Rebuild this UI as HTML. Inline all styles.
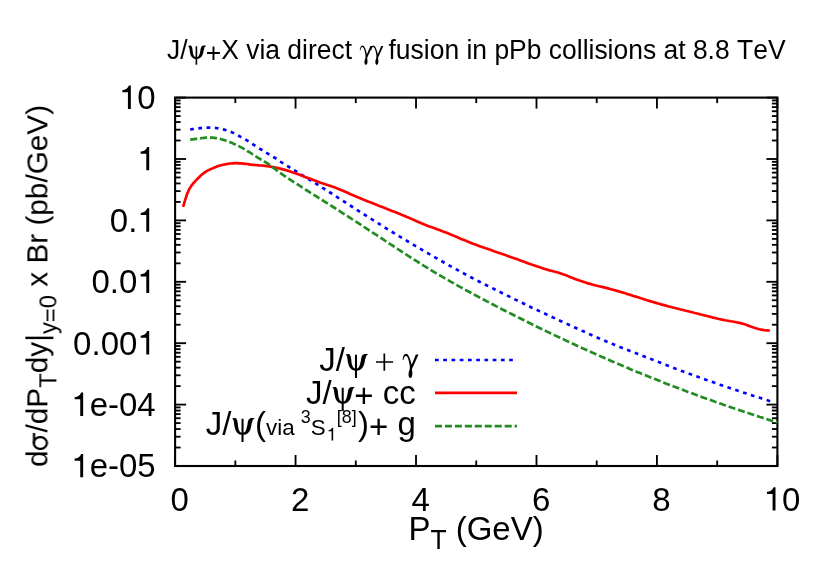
<!DOCTYPE html>
<html><head><meta charset="utf-8"><title>plot</title>
<style>
html,body{margin:0;padding:0;background:#fff;}
svg{display:block;}
text{font-family:"Liberation Sans",sans-serif;fill:#000;font-kerning:none;white-space:pre;}
</style></head><body>
<svg width="830" height="582" viewBox="0 0 830 582">
<rect width="830" height="582" fill="#fff"/>
<g stroke="#000" stroke-width="1.85" fill="none" stroke-linecap="butt">
<line x1="175.10" y1="97.60" x2="186.10" y2="97.60"/>
<line x1="777.40" y1="97.60" x2="766.40" y2="97.60"/>
<line x1="175.10" y1="140.52" x2="180.60" y2="140.52"/>
<line x1="777.40" y1="140.52" x2="771.90" y2="140.52"/>
<line x1="175.10" y1="129.70" x2="180.60" y2="129.70"/>
<line x1="777.40" y1="129.70" x2="771.90" y2="129.70"/>
<line x1="175.10" y1="122.03" x2="180.60" y2="122.03"/>
<line x1="777.40" y1="122.03" x2="771.90" y2="122.03"/>
<line x1="175.10" y1="116.08" x2="180.60" y2="116.08"/>
<line x1="777.40" y1="116.08" x2="771.90" y2="116.08"/>
<line x1="175.10" y1="111.22" x2="180.60" y2="111.22"/>
<line x1="777.40" y1="111.22" x2="771.90" y2="111.22"/>
<line x1="175.10" y1="107.11" x2="180.60" y2="107.11"/>
<line x1="777.40" y1="107.11" x2="771.90" y2="107.11"/>
<line x1="175.10" y1="103.55" x2="180.60" y2="103.55"/>
<line x1="777.40" y1="103.55" x2="771.90" y2="103.55"/>
<line x1="175.10" y1="100.41" x2="180.60" y2="100.41"/>
<line x1="777.40" y1="100.41" x2="771.90" y2="100.41"/>
<line x1="175.10" y1="159.00" x2="186.10" y2="159.00"/>
<line x1="777.40" y1="159.00" x2="766.40" y2="159.00"/>
<line x1="175.10" y1="201.92" x2="180.60" y2="201.92"/>
<line x1="777.40" y1="201.92" x2="771.90" y2="201.92"/>
<line x1="175.10" y1="191.10" x2="180.60" y2="191.10"/>
<line x1="777.40" y1="191.10" x2="771.90" y2="191.10"/>
<line x1="175.10" y1="183.43" x2="180.60" y2="183.43"/>
<line x1="777.40" y1="183.43" x2="771.90" y2="183.43"/>
<line x1="175.10" y1="177.48" x2="180.60" y2="177.48"/>
<line x1="777.40" y1="177.48" x2="771.90" y2="177.48"/>
<line x1="175.10" y1="172.62" x2="180.60" y2="172.62"/>
<line x1="777.40" y1="172.62" x2="771.90" y2="172.62"/>
<line x1="175.10" y1="168.51" x2="180.60" y2="168.51"/>
<line x1="777.40" y1="168.51" x2="771.90" y2="168.51"/>
<line x1="175.10" y1="164.95" x2="180.60" y2="164.95"/>
<line x1="777.40" y1="164.95" x2="771.90" y2="164.95"/>
<line x1="175.10" y1="161.81" x2="180.60" y2="161.81"/>
<line x1="777.40" y1="161.81" x2="771.90" y2="161.81"/>
<line x1="175.10" y1="220.40" x2="186.10" y2="220.40"/>
<line x1="777.40" y1="220.40" x2="766.40" y2="220.40"/>
<line x1="175.10" y1="263.32" x2="180.60" y2="263.32"/>
<line x1="777.40" y1="263.32" x2="771.90" y2="263.32"/>
<line x1="175.10" y1="252.50" x2="180.60" y2="252.50"/>
<line x1="777.40" y1="252.50" x2="771.90" y2="252.50"/>
<line x1="175.10" y1="244.83" x2="180.60" y2="244.83"/>
<line x1="777.40" y1="244.83" x2="771.90" y2="244.83"/>
<line x1="175.10" y1="238.88" x2="180.60" y2="238.88"/>
<line x1="777.40" y1="238.88" x2="771.90" y2="238.88"/>
<line x1="175.10" y1="234.02" x2="180.60" y2="234.02"/>
<line x1="777.40" y1="234.02" x2="771.90" y2="234.02"/>
<line x1="175.10" y1="229.91" x2="180.60" y2="229.91"/>
<line x1="777.40" y1="229.91" x2="771.90" y2="229.91"/>
<line x1="175.10" y1="226.35" x2="180.60" y2="226.35"/>
<line x1="777.40" y1="226.35" x2="771.90" y2="226.35"/>
<line x1="175.10" y1="223.21" x2="180.60" y2="223.21"/>
<line x1="777.40" y1="223.21" x2="771.90" y2="223.21"/>
<line x1="175.10" y1="281.80" x2="186.10" y2="281.80"/>
<line x1="777.40" y1="281.80" x2="766.40" y2="281.80"/>
<line x1="175.10" y1="324.72" x2="180.60" y2="324.72"/>
<line x1="777.40" y1="324.72" x2="771.90" y2="324.72"/>
<line x1="175.10" y1="313.90" x2="180.60" y2="313.90"/>
<line x1="777.40" y1="313.90" x2="771.90" y2="313.90"/>
<line x1="175.10" y1="306.23" x2="180.60" y2="306.23"/>
<line x1="777.40" y1="306.23" x2="771.90" y2="306.23"/>
<line x1="175.10" y1="300.28" x2="180.60" y2="300.28"/>
<line x1="777.40" y1="300.28" x2="771.90" y2="300.28"/>
<line x1="175.10" y1="295.42" x2="180.60" y2="295.42"/>
<line x1="777.40" y1="295.42" x2="771.90" y2="295.42"/>
<line x1="175.10" y1="291.31" x2="180.60" y2="291.31"/>
<line x1="777.40" y1="291.31" x2="771.90" y2="291.31"/>
<line x1="175.10" y1="287.75" x2="180.60" y2="287.75"/>
<line x1="777.40" y1="287.75" x2="771.90" y2="287.75"/>
<line x1="175.10" y1="284.61" x2="180.60" y2="284.61"/>
<line x1="777.40" y1="284.61" x2="771.90" y2="284.61"/>
<line x1="175.10" y1="343.20" x2="186.10" y2="343.20"/>
<line x1="777.40" y1="343.20" x2="766.40" y2="343.20"/>
<line x1="175.10" y1="386.12" x2="180.60" y2="386.12"/>
<line x1="777.40" y1="386.12" x2="771.90" y2="386.12"/>
<line x1="175.10" y1="375.30" x2="180.60" y2="375.30"/>
<line x1="777.40" y1="375.30" x2="771.90" y2="375.30"/>
<line x1="175.10" y1="367.63" x2="180.60" y2="367.63"/>
<line x1="777.40" y1="367.63" x2="771.90" y2="367.63"/>
<line x1="175.10" y1="361.68" x2="180.60" y2="361.68"/>
<line x1="777.40" y1="361.68" x2="771.90" y2="361.68"/>
<line x1="175.10" y1="356.82" x2="180.60" y2="356.82"/>
<line x1="777.40" y1="356.82" x2="771.90" y2="356.82"/>
<line x1="175.10" y1="352.71" x2="180.60" y2="352.71"/>
<line x1="777.40" y1="352.71" x2="771.90" y2="352.71"/>
<line x1="175.10" y1="349.15" x2="180.60" y2="349.15"/>
<line x1="777.40" y1="349.15" x2="771.90" y2="349.15"/>
<line x1="175.10" y1="346.01" x2="180.60" y2="346.01"/>
<line x1="777.40" y1="346.01" x2="771.90" y2="346.01"/>
<line x1="175.10" y1="404.60" x2="186.10" y2="404.60"/>
<line x1="777.40" y1="404.60" x2="766.40" y2="404.60"/>
<line x1="175.10" y1="447.52" x2="180.60" y2="447.52"/>
<line x1="777.40" y1="447.52" x2="771.90" y2="447.52"/>
<line x1="175.10" y1="436.70" x2="180.60" y2="436.70"/>
<line x1="777.40" y1="436.70" x2="771.90" y2="436.70"/>
<line x1="175.10" y1="429.03" x2="180.60" y2="429.03"/>
<line x1="777.40" y1="429.03" x2="771.90" y2="429.03"/>
<line x1="175.10" y1="423.08" x2="180.60" y2="423.08"/>
<line x1="777.40" y1="423.08" x2="771.90" y2="423.08"/>
<line x1="175.10" y1="418.22" x2="180.60" y2="418.22"/>
<line x1="777.40" y1="418.22" x2="771.90" y2="418.22"/>
<line x1="175.10" y1="414.11" x2="180.60" y2="414.11"/>
<line x1="777.40" y1="414.11" x2="771.90" y2="414.11"/>
<line x1="175.10" y1="410.55" x2="180.60" y2="410.55"/>
<line x1="777.40" y1="410.55" x2="771.90" y2="410.55"/>
<line x1="175.10" y1="407.41" x2="180.60" y2="407.41"/>
<line x1="777.40" y1="407.41" x2="771.90" y2="407.41"/>
<line x1="175.10" y1="466.00" x2="186.10" y2="466.00"/>
<line x1="777.40" y1="466.00" x2="766.40" y2="466.00"/>
<line x1="175.10" y1="466.00" x2="175.10" y2="455.00"/>
<line x1="175.10" y1="97.60" x2="175.10" y2="108.60"/>
<line x1="235.33" y1="466.00" x2="235.33" y2="460.50"/>
<line x1="235.33" y1="97.60" x2="235.33" y2="103.10"/>
<line x1="295.56" y1="466.00" x2="295.56" y2="455.00"/>
<line x1="295.56" y1="97.60" x2="295.56" y2="108.60"/>
<line x1="355.79" y1="466.00" x2="355.79" y2="460.50"/>
<line x1="355.79" y1="97.60" x2="355.79" y2="103.10"/>
<line x1="416.02" y1="466.00" x2="416.02" y2="455.00"/>
<line x1="416.02" y1="97.60" x2="416.02" y2="108.60"/>
<line x1="476.25" y1="466.00" x2="476.25" y2="460.50"/>
<line x1="476.25" y1="97.60" x2="476.25" y2="103.10"/>
<line x1="536.48" y1="466.00" x2="536.48" y2="455.00"/>
<line x1="536.48" y1="97.60" x2="536.48" y2="108.60"/>
<line x1="596.71" y1="466.00" x2="596.71" y2="460.50"/>
<line x1="596.71" y1="97.60" x2="596.71" y2="103.10"/>
<line x1="656.94" y1="466.00" x2="656.94" y2="455.00"/>
<line x1="656.94" y1="97.60" x2="656.94" y2="108.60"/>
<line x1="717.17" y1="466.00" x2="717.17" y2="460.50"/>
<line x1="717.17" y1="97.60" x2="717.17" y2="103.10"/>
<line x1="777.40" y1="466.00" x2="777.40" y2="455.00"/>
<line x1="777.40" y1="97.60" x2="777.40" y2="108.60"/>
<rect x="175.1" y="97.6" width="602.30" height="368.40" stroke-width="2.1"/>
</g>
<g fill="none" stroke-width="2.68" stroke-linejoin="round">
<path d="M190.2,129.5 L192.2,129.2 L194.2,128.9 L196.2,128.7 L198.2,128.4 L200.2,128.2 L202.2,128.0 L204.2,127.8 L206.2,127.7 L208.2,127.7 L210.2,127.6 L212.2,127.7 L214.2,127.8 L216.2,128.0 L218.2,128.3 L220.2,128.7 L222.2,129.1 L224.2,129.6 L226.2,130.2 L228.2,130.8 L230.2,131.6 L232.2,132.4 L234.2,133.4 L236.2,134.4 L238.2,135.5 L240.2,136.6 L242.2,137.7 L244.2,138.8 L246.2,139.9 L248.2,141.1 L250.2,142.4 L252.2,143.8 L254.2,145.1 L256.2,146.4 L258.2,147.7 L260.2,149.0 L262.2,150.2 L264.2,151.5 L266.2,152.7 L268.2,153.9 L270.2,155.1 L272.2,156.3 L274.2,157.5 L276.2,158.7 L278.2,160.1 L280.2,161.5 L282.0,162.7 L285.0,164.5 L288.0,166.4 L291.0,168.2 L294.0,170.1 L297.0,171.9 L300.0,173.7 L303.0,175.6 L306.0,177.4 L309.0,179.3 L312.0,181.2 L315.0,183.0 L318.0,184.9 L321.0,186.8 L324.0,188.7 L327.0,190.6 L330.0,192.5 L333.0,194.4 L336.0,196.4 L339.0,198.3 L342.0,200.2 L345.0,202.1 L348.0,204.1 L351.0,206.0 L354.0,207.9 L357.0,209.9 L360.0,211.8 L363.0,213.7 L366.0,215.6 L369.0,217.5 L372.0,219.4 L375.0,221.3 L378.0,223.2 L381.0,225.1 L384.0,226.9 L387.0,228.8 L390.0,230.6 L393.0,232.5 L396.0,234.3 L399.0,236.1 L402.0,237.9 L405.0,239.7 L408.0,241.5 L411.0,243.3 L414.0,245.1 L417.0,246.8 L420.0,248.6 L423.0,250.4 L426.0,252.1 L429.0,253.9 L432.0,255.6 L435.0,257.3 L438.0,259.1 L441.0,260.8 L444.0,262.5 L447.0,264.2 L450.0,265.9 L453.0,267.6 L456.0,269.2 L459.0,270.9 L462.0,272.5 L465.0,274.1 L468.0,275.7 L471.0,277.3 L474.0,278.9 L477.0,280.4 L480.0,282.0 L483.0,283.5 L486.0,285.0 L489.0,286.5 L492.0,288.0 L495.0,289.5 L498.0,291.0 L501.0,292.5 L504.0,294.0 L507.0,295.4 L510.0,296.9 L513.0,298.4 L516.0,299.9 L519.0,301.3 L522.0,302.8 L525.0,304.3 L528.0,305.7 L531.0,307.2 L534.0,308.6 L537.0,310.0 L540.0,311.4 L543.0,312.8 L546.0,314.2 L549.0,315.6 L552.0,317.0 L555.0,318.4 L558.0,319.8 L561.0,321.2 L564.0,322.5 L567.0,323.9 L570.0,325.3 L573.0,326.7 L576.0,328.0 L579.0,329.4 L582.0,330.8 L585.0,332.1 L588.0,333.5 L591.0,334.8 L594.0,336.1 L597.0,337.4 L600.0,338.7 L603.0,340.0 L606.0,341.3 L609.0,342.5 L612.0,343.7 L615.0,345.0 L618.0,346.2 L621.0,347.4 L624.0,348.6 L627.0,349.7 L630.0,350.9 L633.0,352.1 L636.0,353.3 L639.0,354.4 L642.0,355.6 L645.0,356.8 L648.0,358.0 L651.0,359.1 L654.0,360.3 L657.0,361.5 L660.0,362.6 L663.0,363.8 L666.0,364.9 L669.0,366.1 L672.0,367.2 L675.0,368.4 L678.0,369.5 L681.0,370.7 L684.0,371.8 L687.0,372.9 L690.0,374.0 L693.0,375.1 L696.0,376.2 L699.0,377.3 L702.0,378.4 L705.0,379.4 L708.0,380.5 L711.0,381.5 L714.0,382.6 L717.0,383.6 L720.0,384.7 L723.0,385.7 L726.0,386.7 L729.0,387.7 L732.0,388.7 L735.0,389.7 L738.0,390.7 L741.0,391.7 L744.0,392.7 L747.0,393.7 L750.0,394.7 L753.0,395.7 L756.0,396.6 L759.0,397.6 L762.0,398.6 L765.0,399.5 L768.0,400.5 L771.0,401.5 L773.5,402.2" stroke="#0000ff" stroke-dasharray="3.7 4.54"/>
<path d="M183.1,206.9 L185.1,200.1 L187.1,194.0 L189.1,189.4 L191.1,186.1 L193.1,183.5 L195.1,181.3 L197.1,179.2 L199.1,177.2 L201.1,175.3 L203.1,173.6 L205.1,172.1 L207.1,170.9 L209.1,169.9 L211.1,169.0 L213.1,168.1 L215.1,167.2 L217.1,166.4 L219.1,165.8 L221.1,165.2 L223.1,164.7 L225.1,164.3 L227.1,164.0 L229.1,163.7 L231.1,163.5 L233.1,163.3 L235.1,163.2 L237.1,163.2 L239.1,163.3 L241.1,163.4 L243.1,163.6 L245.1,163.8 L247.1,164.0 L249.1,164.3 L251.1,164.6 L253.1,164.8 L255.1,165.0 L257.1,165.2 L259.1,165.4 L261.1,165.5 L263.1,165.7 L265.1,165.9 L267.1,166.1 L269.1,166.4 L271.1,166.7 L273.1,167.1 L275.1,167.5 L277.1,167.9 L279.1,168.4 L281.1,168.9 L283.1,169.4 L285.1,169.9 L287.0,170.5 L290.0,171.4 L293.0,172.5 L296.0,173.5 L299.0,174.6 L302.0,175.7 L305.0,176.9 L308.0,178.0 L311.0,179.1 L314.0,180.2 L317.0,181.3 L320.0,182.4 L323.0,183.4 L326.0,184.4 L329.0,185.4 L332.0,186.5 L335.0,187.6 L338.0,188.8 L341.0,190.0 L344.0,191.3 L347.0,192.6 L350.0,193.9 L353.0,195.2 L356.0,196.5 L359.0,197.7 L362.0,199.0 L365.0,200.2 L368.0,201.4 L371.0,202.6 L374.0,203.8 L377.0,205.0 L380.0,206.2 L383.0,207.3 L386.0,208.5 L389.0,209.7 L392.0,210.9 L395.0,212.0 L398.0,213.2 L401.0,214.5 L404.0,215.7 L407.0,217.0 L410.0,218.2 L413.0,219.6 L416.0,220.9 L419.0,222.2 L422.0,223.5 L425.0,224.7 L428.0,225.9 L431.0,227.0 L434.0,228.1 L437.0,229.2 L440.0,230.3 L443.0,231.5 L446.0,232.6 L449.0,233.8 L452.0,235.1 L455.0,236.3 L458.0,237.6 L461.0,238.9 L464.0,240.1 L467.0,241.3 L470.0,242.5 L473.0,243.7 L476.0,244.8 L479.0,245.9 L482.0,247.0 L485.0,248.1 L488.0,249.1 L491.0,250.1 L494.0,251.2 L497.0,252.2 L500.0,253.2 L503.0,254.3 L506.0,255.3 L509.0,256.4 L512.0,257.5 L515.0,258.5 L518.0,259.6 L521.0,260.7 L524.0,261.8 L527.0,262.9 L530.0,264.0 L533.0,265.1 L536.0,266.1 L539.0,267.1 L542.0,268.1 L545.0,269.0 L548.0,269.9 L551.0,270.7 L554.0,271.5 L557.0,272.3 L560.0,273.2 L563.0,274.3 L566.0,275.3 L569.0,276.5 L572.0,277.7 L575.0,278.9 L578.0,280.0 L581.0,281.1 L584.0,282.1 L587.0,283.1 L590.0,283.9 L593.0,284.7 L596.0,285.5 L599.0,286.2 L602.0,286.9 L605.0,287.6 L608.0,288.4 L611.0,289.2 L614.0,290.0 L617.0,290.9 L620.0,291.7 L623.0,292.6 L626.0,293.6 L629.0,294.5 L632.0,295.4 L635.0,296.4 L638.0,297.3 L641.0,298.3 L644.0,299.2 L647.0,300.2 L650.0,301.1 L653.0,302.0 L656.0,302.9 L659.0,303.8 L662.0,304.6 L665.0,305.4 L668.0,306.2 L671.0,307.0 L674.0,307.8 L677.0,308.5 L680.0,309.3 L683.0,310.0 L686.0,310.8 L689.0,311.5 L692.0,312.2 L695.0,313.0 L698.0,313.7 L701.0,314.5 L704.0,315.2 L707.0,316.0 L710.0,316.8 L713.0,317.6 L716.0,318.3 L719.0,319.0 L722.0,319.6 L725.0,320.2 L728.0,320.7 L731.0,321.3 L734.0,321.8 L735.0,322.0 L739.4,322.9 L744.8,324.3 L748.5,325.7 L752.1,327.0 L755.8,328.2 L759.3,329.2 L764.0,330.1 L769.8,330.7" stroke="#ff0000"/>
<path d="M190.2,139.7 L192.2,139.4 L194.2,139.1 L196.2,138.8 L198.2,138.5 L200.2,138.3 L202.2,138.0 L204.2,137.8 L206.2,137.7 L208.2,137.6 L210.2,137.6 L212.2,137.6 L214.2,137.8 L216.2,138.1 L218.2,138.5 L220.2,139.0 L222.2,139.5 L224.2,140.1 L226.2,140.8 L228.2,141.5 L230.2,142.3 L232.2,143.1 L234.2,144.0 L236.2,144.9 L238.2,145.8 L240.2,146.9 L242.2,147.9 L244.2,149.1 L246.2,150.3 L248.2,151.5 L250.2,152.7 L252.2,154.0 L254.2,155.3 L256.2,156.6 L258.2,157.8 L260.2,159.0 L262.2,160.2 L264.2,161.4 L266.2,162.6 L268.2,163.9 L270.2,165.4 L272.2,166.9 L274.2,168.5 L276.2,170.0 L278.2,171.5 L280.2,172.9 L282.2,174.3 L283.0,174.8 L286.0,176.9 L289.0,178.9 L292.0,180.8 L295.0,182.8 L298.0,184.7 L301.0,186.7 L304.0,188.6 L307.0,190.5 L310.0,192.4 L313.0,194.3 L316.0,196.2 L319.0,198.1 L322.0,200.0 L325.0,201.9 L328.0,203.8 L331.0,205.6 L334.0,207.5 L337.0,209.4 L340.0,211.3 L343.0,213.3 L346.0,215.2 L349.0,217.1 L352.0,219.1 L355.0,221.0 L358.0,222.9 L361.0,224.9 L364.0,226.9 L367.0,228.8 L370.0,230.8 L373.0,232.8 L376.0,234.7 L379.0,236.7 L382.0,238.7 L385.0,240.7 L388.0,242.6 L391.0,244.6 L394.0,246.5 L397.0,248.5 L400.0,250.5 L403.0,252.4 L406.0,254.3 L409.0,256.3 L412.0,258.2 L415.0,260.1 L418.0,262.0 L421.0,263.9 L424.0,265.8 L427.0,267.6 L430.0,269.5 L433.0,271.3 L436.0,273.1 L439.0,274.9 L442.0,276.7 L445.0,278.4 L448.0,280.1 L451.0,281.8 L454.0,283.5 L457.0,285.2 L460.0,286.9 L463.0,288.5 L466.0,290.2 L469.0,291.8 L472.0,293.4 L475.0,295.0 L478.0,296.6 L481.0,298.2 L484.0,299.8 L487.0,301.4 L490.0,302.9 L493.0,304.5 L496.0,306.1 L499.0,307.6 L502.0,309.2 L505.0,310.7 L508.0,312.3 L511.0,313.8 L514.0,315.3 L517.0,316.8 L520.0,318.3 L523.0,319.8 L526.0,321.3 L529.0,322.8 L532.0,324.3 L535.0,325.8 L538.0,327.2 L541.0,328.7 L544.0,330.2 L547.0,331.6 L550.0,333.0 L553.0,334.5 L556.0,335.9 L559.0,337.3 L562.0,338.7 L565.0,340.1 L568.0,341.5 L571.0,342.9 L574.0,344.3 L577.0,345.7 L580.0,347.1 L583.0,348.4 L586.0,349.8 L589.0,351.2 L592.0,352.5 L595.0,353.8 L598.0,355.2 L601.0,356.5 L604.0,357.8 L607.0,359.1 L610.0,360.4 L613.0,361.7 L616.0,363.0 L619.0,364.3 L622.0,365.6 L625.0,366.8 L628.0,368.1 L631.0,369.4 L634.0,370.6 L637.0,371.9 L640.0,373.1 L643.0,374.3 L646.0,375.5 L649.0,376.7 L652.0,377.9 L655.0,379.1 L658.0,380.3 L661.0,381.5 L664.0,382.7 L667.0,383.9 L670.0,385.0 L673.0,386.2 L676.0,387.3 L679.0,388.5 L682.0,389.6 L685.0,390.8 L688.0,391.9 L691.0,393.0 L694.0,394.1 L697.0,395.2 L700.0,396.3 L703.0,397.4 L706.0,398.5 L709.0,399.6 L712.0,400.6 L715.0,401.7 L718.0,402.8 L721.0,403.8 L724.0,404.9 L727.0,405.9 L730.0,406.9 L733.0,408.0 L736.0,409.0 L739.0,410.0 L742.0,411.0 L745.0,412.0 L748.0,413.0 L751.0,414.0 L754.0,415.0 L757.0,416.0 L760.0,417.0 L763.0,417.9 L766.0,418.9 L769.0,419.9 L772.0,420.8 L775.0,421.8 L777.4,422.5" stroke="#228b22" stroke-dasharray="7.05 2.9"/>
<path d="M435,360.0 H517" stroke="#0000ff" stroke-dasharray="3.7 4.54"/>
<path d="M435,392.8 H517" stroke="#ff0000"/>
<path d="M435,426.2 H517" stroke="#228b22" stroke-dasharray="7.05 2.9"/>
</g>
<g fill="#000" style="filter:grayscale(1)">
<text transform="translate(167.00,58.80) scale(1,1.020)" font-size="26.46">J/</text>
<path transform="translate(187.58,58.80) scale(0.02646,-0.02646)" d="M12,478 C45,500 100,505 135,495 C175,455 185,390 190,327 C196,250 208,190 222,150 C238,105 265,72 302,56 L302,478 L364,478 L364,56 C400,72 428,105 443,150 C460,200 478,270 486,327 C492,385 502,430 527,465 C555,497 625,508 690,492 L697,478 C662,470 643,450 636,416 C627,370 617,350 608,327 C597,250 585,200 568,150 C540,75 465,0 364,-8 L364,-228 L302,-228 L302,-8 C235,-2 185,35 152,80 C115,130 100,200 88,260 C78,330 72,380 64,420 C57,450 42,468 12,478 Z"/>
<text transform="translate(205.73,61.58) scale(1,1.020)" font-size="26.46">+</text>
<text transform="translate(221.19,58.80) scale(1,1.020)" font-size="26.46">X via direct </text>
<path transform="translate(359.42,58.80) scale(0.02646,-0.02646)" d="M14,318 C18,420 55,504 115,504 C180,504 222,400 250,300 L285,175 L412,483 L492,483 L345,150 C325,105 300,70 292,27 C300,-10 310,-60 306,-115 C302,-185 280,-230 245,-230 C210,-230 190,-180 191,-115 C192,-60 215,-10 226,27 C232,70 232,110 228,150 C205,290 170,442 110,442 C70,442 45,390 41,322 Z"/>
<path transform="translate(370.29,58.80) scale(0.02646,-0.02646)" d="M14,318 C18,420 55,504 115,504 C180,504 222,400 250,300 L285,175 L412,483 L492,483 L345,150 C325,105 300,70 292,27 C300,-10 310,-60 306,-115 C302,-185 280,-230 245,-230 C210,-230 190,-180 191,-115 C192,-60 215,-10 226,27 C232,70 232,110 228,150 C205,290 170,442 110,442 C70,442 45,390 41,322 Z"/>
<text transform="translate(381.17,58.80) scale(1,1.020)" font-size="26.46"> fusion in pPb collisions at 8.8 TeV</text>
<path transform="translate(118.99,108.90) scale(0.03300,-0.03300)" d="M359,0 L271,0 L271,505 L101,505 L101,568 C187,577 262,610 302,709 L359,709 Z"/>
<text transform="translate(137.34,108.90) scale(1,1.032)" font-size="33.00">0</text>
<path transform="translate(137.35,170.30) scale(0.03300,-0.03300)" d="M359,0 L271,0 L271,505 L101,505 L101,568 C187,577 262,610 302,709 L359,709 Z"/>
<text transform="translate(109.83,231.70) scale(1,1.032)" font-size="33.00">0.</text>
<path transform="translate(137.35,231.70) scale(0.03300,-0.03300)" d="M359,0 L271,0 L271,505 L101,505 L101,568 C187,577 262,610 302,709 L359,709 Z"/>
<text transform="translate(91.47,293.10) scale(1,1.032)" font-size="33.00">0.0</text>
<path transform="translate(137.35,293.10) scale(0.03300,-0.03300)" d="M359,0 L271,0 L271,505 L101,505 L101,568 C187,577 262,610 302,709 L359,709 Z"/>
<text transform="translate(73.12,354.50) scale(1,1.032)" font-size="33.00">0.00</text>
<path transform="translate(137.35,354.50) scale(0.03300,-0.03300)" d="M359,0 L271,0 L271,505 L101,505 L101,568 C187,577 262,610 302,709 L359,709 Z"/>
<path transform="translate(71.30,415.90) scale(0.03300,-0.03300)" d="M359,0 L271,0 L271,505 L101,505 L101,568 C187,577 262,610 302,709 L359,709 Z"/>
<text transform="translate(89.65,415.90) scale(1,1.032)" font-size="33.00">e-04</text>
<path transform="translate(71.30,477.30) scale(0.03300,-0.03300)" d="M359,0 L271,0 L271,505 L101,505 L101,568 C187,577 262,610 302,709 L359,709 Z"/>
<text transform="translate(89.65,477.30) scale(1,1.032)" font-size="33.00">e-05</text>
<text transform="translate(170.52,510.60) scale(1,1.032)" font-size="33.00">0</text>
<text transform="translate(290.98,510.60) scale(1,1.032)" font-size="33.00">2</text>
<text transform="translate(411.44,510.60) scale(1,1.032)" font-size="33.00">4</text>
<text transform="translate(531.90,510.60) scale(1,1.032)" font-size="33.00">6</text>
<text transform="translate(652.36,510.60) scale(1,1.032)" font-size="33.00">8</text>
<path transform="translate(763.65,510.60) scale(0.03300,-0.03300)" d="M359,0 L271,0 L271,505 L101,505 L101,568 C187,577 262,610 302,709 L359,709 Z"/>
<text transform="translate(781.99,510.60) scale(1,1.032)" font-size="33.00">0</text>
<text transform="translate(408.40,539.80) scale(1,1.020)" font-size="33.00">P</text>
<text transform="translate(430.41,549.40) scale(1,1.020)" font-size="26.40">T</text>
<text transform="translate(446.54,539.80) scale(1,1.020)" font-size="33.00"> (GeV)</text>
<text transform="translate(319.31,370.50) scale(1,1.020)" font-size="33.00">J/</text>
<path transform="translate(344.98,370.50) scale(0.03300,-0.03300)" d="M12,478 C45,500 100,505 135,495 C175,455 185,390 190,327 C196,250 208,190 222,150 C238,105 265,72 302,56 L302,478 L364,478 L364,56 C400,72 428,105 443,150 C460,200 478,270 486,327 C492,385 502,430 527,465 C555,497 625,508 690,492 L697,478 C662,470 643,450 636,416 C627,370 617,350 608,327 C597,250 585,200 568,150 C540,75 465,0 364,-8 L364,-228 L302,-228 L302,-8 C235,-2 185,35 152,80 C115,130 100,200 88,260 C78,330 72,380 64,420 C57,450 42,468 12,478 Z"/>
<path transform="translate(375.87,370.50) scale(0.03300,-0.03300)" d="M2,232 H524 V284 H2 Z M230,-5 H282 V517 H230 Z"/>
<path transform="translate(402.24,370.50) scale(0.03300,-0.03300)" d="M14,318 C18,420 55,504 115,504 C180,504 222,400 250,300 L285,175 L412,483 L492,483 L345,150 C325,105 300,70 292,27 C300,-10 310,-60 306,-115 C302,-185 280,-230 245,-230 C210,-230 190,-180 191,-115 C192,-60 215,-10 226,27 C232,70 232,110 228,150 C205,290 170,442 110,442 C70,442 45,390 41,322 Z"/>
<text transform="translate(306.05,403.50) scale(1,1.020)" font-size="33.00">J/</text>
<path transform="translate(331.72,403.50) scale(0.03300,-0.03300)" d="M12,478 C45,500 100,505 135,495 C175,455 185,390 190,327 C196,250 208,190 222,150 C238,105 265,72 302,56 L302,478 L364,478 L364,56 C400,72 428,105 443,150 C460,200 478,270 486,327 C492,385 502,430 527,465 C555,497 625,508 690,492 L697,478 C662,470 643,450 636,416 C627,370 617,350 608,327 C597,250 585,200 568,150 C540,75 465,0 364,-8 L364,-228 L302,-228 L302,-8 C235,-2 185,35 152,80 C115,130 100,200 88,260 C78,330 72,380 64,420 C57,450 42,468 12,478 Z"/>
<text transform="translate(354.36,406.96) scale(1,1.020)" font-size="33.00">+</text>
<text transform="translate(373.63,403.50) scale(1,1.020)" font-size="33.00"> cc</text>
<text transform="translate(205.87,434.60) scale(1,1.020)" font-size="33.00">J/</text>
<path transform="translate(231.54,434.60) scale(0.03300,-0.03300)" d="M12,478 C45,500 100,505 135,495 C175,455 185,390 190,327 C196,250 208,190 222,150 C238,105 265,72 302,56 L302,478 L364,478 L364,56 C400,72 428,105 443,150 C460,200 478,270 486,327 C492,385 502,430 527,465 C555,497 625,508 690,492 L697,478 C662,470 643,450 636,416 C627,370 617,350 608,327 C597,250 585,200 568,150 C540,75 465,0 364,-8 L364,-228 L302,-228 L302,-8 C235,-2 185,35 152,80 C115,130 100,200 88,260 C78,330 72,380 64,420 C57,450 42,468 12,478 Z"/>
<text transform="translate(254.97,434.60) scale(1,1.020)" font-size="33.00">(</text>
<text transform="translate(265.96,434.60) scale(1,1.020)" font-size="22.40">via </text>
<text transform="translate(300.82,423.30) scale(1,1.020)" font-size="17.92">3</text>
<text transform="translate(310.79,434.60) scale(1,1.020)" font-size="22.40">S</text>
<path transform="translate(326.73,440.40) scale(0.01792,-0.01792)" d="M359,0 L271,0 L271,505 L101,505 L101,568 C187,577 262,610 302,709 L359,709 Z"/>
<text transform="translate(336.69,423.30) scale(1,1.020)" font-size="17.92">[8]</text>
<text transform="translate(358.02,434.60) scale(1,1.020)" font-size="33.00">)</text>
<text transform="translate(369.00,438.06) scale(1,1.020)" font-size="33.00">+</text>
<text transform="translate(388.28,434.60) scale(1,1.020)" font-size="33.00"> g</text>
<g transform="translate(47.4,467.0) rotate(-90)">
<text transform="translate(0.00,0.00) scale(1,1.020)" font-size="29.77">d</text>
<g transform="translate(16.56,0.00) scale(0.02977,-0.02977)"><ellipse cx="250" cy="236" rx="200" ry="220" fill="none" stroke="#000" stroke-width="76"/><path d="M236,410 H588 V487 H236 Z"/></g>
<text transform="translate(34.51,0.00) scale(1,1.020)" font-size="29.77">/dP</text>
<text transform="translate(79.19,8.70) scale(1,1.020)" font-size="23.82">T</text>
<text transform="translate(93.74,0.00) scale(1,1.020)" font-size="29.77">dy|</text>
<text transform="translate(132.91,8.70) scale(1,1.020)" font-size="23.82">y</text>
<text transform="translate(144.82,10.84) scale(1,1.020)" font-size="23.82">=</text>
<text transform="translate(158.73,8.70) scale(1,1.020)" font-size="23.82">0</text>
<text transform="translate(171.98,0.00) scale(1,1.020)" font-size="29.77"> x Br (pb/GeV)</text>
</g>
</g>
</svg>
</body></html>
